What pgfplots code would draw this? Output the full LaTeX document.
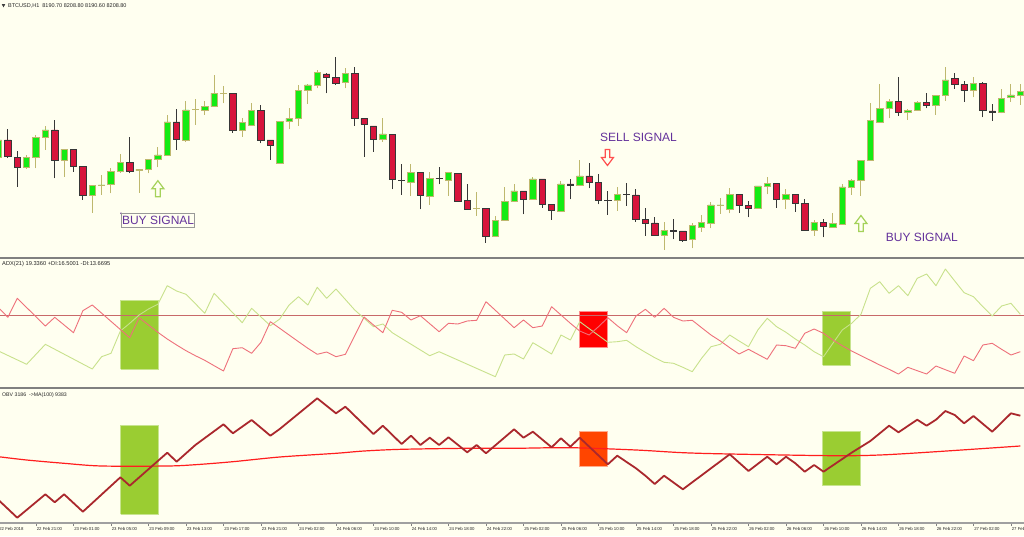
\documentclass[border=0pt]{standalone}
\usepackage{fontspec}
\setmainfont{Liberation Sans}
\usepackage{pgfplots}
\usepackage{pgfplotstable}
\pgfplotsset{compat=1.18}

\definecolor{bgivory}{RGB}{255,255,240}
\definecolor{bullfill}{RGB}{20,235,20}
\definecolor{bullline}{RGB}{190,184,110}
\definecolor{bearfill}{RGB}{215,20,60}
\definecolor{bearline}{RGB}{55,55,55}
\definecolor{sepgray}{RGB}{128,128,128}
\definecolor{axisgray}{RGB}{160,160,160}
\definecolor{sigpurple}{RGB}{100,50,155}
\definecolor{diplus}{RGB}{200,225,140}
\definecolor{diminus}{RGB}{238,112,122}
\definecolor{levelc}{RGB}{200,105,105}
\definecolor{obvc}{RGB}{170,40,45}
\definecolor{mac}{RGB}{255,30,30}
\definecolor{yg}{RGB}{154,205,50}
\definecolor{orred}{RGB}{255,69,0}
\definecolor{arrowgreen}{RGB}{165,210,90}
\definecolor{arrowred}{RGB}{255,80,80}

\tikzset{sigtext/.style={anchor=west, inner sep=0pt, text=sigpurple, font=\fontsize{12}{14}\selectfont}}

% bullish candles (values = pixel height above the panel bottom)
\pgfplotstableread{
i o h l c
0 99 118 96 116
3 88.7 101 87 98.7
4 98.7 121 87.7 118.7
5 118.3 130 106 126
7 96 107 79.3 106.7
10 61 71 43.3 70.3
11 70.5 81 61 71
12 71.7 87.7 62.7 84.3
13 84.3 102 83 93.3
15 85.3 87 63.3 86.7
16 86.7 97 82.7 96.3
17 96.3 108.7 88.7 101
18 101 141 101 134
20 116 155.3 114.3 146
21 146.3 156.7 131 146.7
22 145.3 155.3 141 149.3
23 149.3 181 149.3 162.7
24 162.4 170 152.7 162.7
26 126 137.7 119.3 133.3
27 131 152.7 131 145.3
30 92.7 134.3 92.7 134.3
31 134.3 147.7 126.7 137.7
32 137.7 171 130.3 165.3
33 165.3 172 152 171
34 171 186 167.7 183.3
37 173.3 187.7 167.7 182.7
41 117 137.7 114.3 122
44 73.3 92 60 83.3
46 59.3 84.3 51 77.7
48 75.3 84.3 60.3 83.3
51 47.2 63.7 40.3 47.5
53 19.3 40 19.3 35.3
54 35.3 69.3 35.3 54.7
55 54.7 71.7 54.3 65
57 56.7 79.3 56.7 77
60 44.3 75.3 44.3 72
62 70.3 96 70.3 80
66 56 69.3 45 61.7
71 21 34.3 6 25.3
74 16.7 32.7 7.7 30.3
75 28.7 41 24.3 33.3
76 32.7 54.3 27.7 51
77 50.7 57.7 42 51
78 47 67.7 42.7 61.7
81 47.7 70 47.7 70
82 70 79.3 61.7 72.3
84 56.7 66.7 46.7 61.7
87 26 36 20 33.7
89 28.7 42.7 28.7 32.7
90 32 72 32 69
91 68.3 76.7 61 75.3
92 75.3 95.3 60 95.3
93 95.3 153.3 95.3 135.3
94 133.7 172 133.7 147.7
95 147.7 156.7 137.7 154.3
97 143.3 146.7 136 145.7
98 145.3 155.3 145.3 153.3
100 151 161 141 160.3
101 161 188.7 155.3 176
104 165.3 178.7 158.7 172.7
107 143.3 166.7 142.7 157.7
108 158.3 172 154.3 161
109 161 172 151 164.3
}\upcandles

% bearish candles
\pgfplotstableread{
i o h l c
1 116 127 98 99.3
2 98.7 105.3 69.3 88.7
6 126 136 77.7 95.3
8 106.7 106.7 84.3 89.3
9 89.3 89.3 56 61
14 93.3 119.3 82.7 84.3
19 134 146.7 106 116.7
25 162.7 162.7 123.3 126
28 145.3 151 112.7 116
29 116 116 96 110.3
35 182 182.7 162.7 178.7
36 178.7 199.3 171 173
38 182.7 189.3 130 137.7
39 137.7 137.7 99.3 131.7
40 130 130 104.3 117
42 121.7 121.7 66.7 76.7
43 75.5 91.7 61 75.1
45 83.3 83.3 46.7 60.3
47 77.5 89.3 71.7 77.1
49 82.7 82.7 55 55
50 55.3 71.7 46.7 46.7
52 47.7 47.7 13.3 19.3
56 65 65 41.7 56.7
58 77 77 48.3 51.3
59 51.3 51.3 36 46
61 72 76.7 56.7 70.3
63 80 92.7 67.7 73.3
64 73.3 81.7 51.7 56
65 55.9 65 41 55.5
67 61.9 72.7 50 61.5
68 61 67 34.3 36.7
69 36.7 48.3 20 32.7
70 33 39.3 21 21
72 25.2 36.7 16.7 24.8
73 25 25 14.3 16
79 61.7 61.7 43.3 50.3
80 50.7 55 38.7 47.7
83 72.3 72.3 48.3 56.7
85 61.7 61.7 44.3 52.7
86 52.3 57.3 25.3 25.3
88 33.7 36.7 18.7 30
96 154.3 178.7 140 143.3
99 153.3 162.7 147.7 151
102 177.7 183.3 167 171.7
103 171.7 175 154.3 165.3
105 172.7 174.3 138.7 145.3
106 145 152 135.3 143.3
}\downcandles

\pgfplotstableread{
i v
0 79.3
1 69.7
2 88.7
5 61
6 69.7
8 54.3
9 76.3
10 82
14 49.3
15 69.3
16 62
17 54.7
18 48
19 42
20 36.3
21 31.3
22 26.7
23 21.3
24 16
25 38.3
26 39.3
27 33.7
28 44.7
29 65.3
30 58.7
31 52
32 45.3
33 38.7
34 32.7
35 35
36 30.3
37 32.7
39 70
40 62
41 54.3
42 76.7
43 74.7
44 67
45 71.3
46 63.3
47 55.3
48 63.7
49 63
50 66
51 66.7
52 85.3
53 76.7
54 68
55 59.3
56 67
57 59.3
58 61
59 80.3
60 72
61 63.7
62 56
63 52
64 60.3
65 69.3
66 61.3
67 54.3
68 71
69 77.7
70 69.7
71 78.7
72 69.7
73 66
74 66.7
75 59.3
76 52
77 46
78 39.3
79 33
80 37.7
81 32.7
82 27.7
83 42
84 41.3
85 38.7
86 53.7
87 58
88 53.7
89 47
90 41.3
91 36
92 31.3
93 26.7
94 22
95 17.7
96 13
97 19.7
98 16.3
99 13
100 21
101 17.3
102 13.7
103 31
104 26.3
105 42
106 43.7
107 37.7
108 32
109 35.3
}\diminusdata

\pgfplotstableread{
i v
0 36
3 22.7
5 42.7
10 18
11 30.3
12 33.7
13 56
14 63.7
15 72
16 78
17 82.7
18 101.3
19 96
20 92.7
21 83.3
22 73.7
23 93.7
26 64.3
27 78.7
29 61.3
30 68
31 82
32 90.3
33 82
34 99.7
35 88.7
36 98
38 77
39 68.7
40 60.3
41 63
42 54.3
46 31.3
47 35.3
53 10.3
54 32
55 33
56 28
57 44.3
58 38.7
59 33
60 52
61 47
62 65.3
65 44.7
66 45.3
67 46.7
68 40.3
69 34.7
70 29.3
71 24.7
72 23.7
73 19.7
74 15.3
75 28.7
76 40.3
77 42.7
78 52
79 46
80 40.3
81 57
82 68.7
83 60.3
84 54.7
85 48
86 42
87 35.3
88 30.3
89 43.7
90 57
91 63.7
92 72.7
93 98.7
94 105.3
95 93.7
96 101.3
97 91.3
98 108.7
99 113
100 101.3
101 118
102 106
103 94.3
104 90.3
105 80.3
106 71
107 81
108 83.7
109 72.7
}\diplusdata

\pgfplotstableread{
i v
0 23
2 5.3
5 28.7
6 20.7
7 28.7
9 11.3
13 45.7
14 37.3
18 70.3
19 61.3
21 78
24 98.7
25 89.7
27 103
29 87.3
30 94
34 124.7
36 109.7
37 116.3
40 89
41 97.3
43 79
44 87.3
45 78
46 85.3
47 78
48 85.7
50 70.7
51 78
52 69.7
55 93.7
56 85.3
57 91.3
59 75.7
60 84.7
61 76.3
62 85.3
65 58.7
66 67.3
68 54.7
69 47.3
70 39
71 47.3
73 33.7
78 68.7
80 52
82 66.3
83 58.7
84 66.3
85 59.7
86 51.3
87 58
88 51.3
91 70.3
93 82
95 97.3
96 90.7
98 103.3
99 97.3
100 103.3
101 112
102 108
103 99.7
104 107
106 91.3
108 109.7
109 107.3
}\obvdata

\pgfplotstableread{
i v
0 66.3
3 63
7 59.7
11 57
18 57
21 58.3
25 61.3
30 66
36 69.7
39 72
43 73.7
50 74.7
55 74.7
61 75.3
68 73
73 70.3
78 69
89 67.3
94 68
100 71.3
109 77
}\madata

\begin{document}
\begin{tikzpicture}
\useasboundingbox (0pt,0pt) rectangle (1024pt,536pt);
\clip (0pt,0pt) rectangle (1024pt,536pt);
\fill[bgivory] (0pt,0pt) rectangle (1024pt,536pt);
\pgfplotsset{
  panel/.style={at={(-3.375pt,#1)}, anchor=south west, scale only axis,
    width=1027.375pt, xmin=-0.2, xmax=109.39, enlargelimits=false},
  mainpanel/.style={panel=280pt, height=256pt, ymin=0, ymax=256, hide axis},
}
% ---------- main panel: wicks
\begin{axis}[mainpanel]
\addplot[draw=none, mark=none, forget plot,
  error bars/.cd, y dir=plus, y explicit, error mark=none,
  error bar style={draw=bullline, line width=1pt}]
  table[x=i, y=l, y error expr=\thisrow{h}-\thisrow{l}] {\upcandles};
\addplot[draw=none, mark=none, forget plot,
  error bars/.cd, y dir=plus, y explicit, error mark=none,
  error bar style={draw=bearline, line width=1pt}]
  table[x=i, y=l, y error expr=\thisrow{h}-\thisrow{l}] {\downcandles};
\end{axis}
% ---------- bullish bodies
\begin{axis}[mainpanel, ybar stacked, bar width=0.68]
\addplot[draw=none, fill=none] table[x=i, y=o] {\upcandles};
\addplot[fill=bullfill, draw=bullline, line width=0.8pt]
  table[x=i, y expr=\thisrow{c}-\thisrow{o}] {\upcandles};
\end{axis}
% ---------- bearish bodies + annotations
\begin{axis}[mainpanel, ybar stacked, bar width=0.68]
\addplot[draw=none, fill=none] table[x=i, y=c] {\downcandles};
\addplot[fill=bearfill, draw=bearline, line width=0.8pt]
  table[x=i, y expr=\thisrow{o}-\thisrow{c}] {\downcandles};
% arrows
\draw[arrowgreen, line width=1.2pt, line join=miter] (axis cs:17,67.3)
  ++(-2.3pt,-8pt) -- ++(4.6pt,0pt) -- ++(0pt,8pt) -- ++(3.7pt,0pt)
  -- ++(-6pt,8pt) -- ++(-6pt,-8pt) -- ++(3.7pt,0pt) -- cycle;
\draw[arrowgreen, line width=1.2pt, line join=miter] (axis cs:92,32.5)
  ++(-2.3pt,-8pt) -- ++(4.6pt,0pt) -- ++(0pt,8pt) -- ++(3.7pt,0pt)
  -- ++(-6pt,8pt) -- ++(-6pt,-8pt) -- ++(3.7pt,0pt) -- cycle;
\draw[arrowred, line width=1.2pt, line join=miter] (axis cs:64.96,98.5)
  ++(-2.3pt,8pt) -- ++(4.6pt,0pt) -- ++(0pt,-8pt) -- ++(3.7pt,0pt)
  -- ++(-6pt,-8pt) -- ++(-6pt,8pt) -- ++(3.7pt,0pt) -- cycle;
% signal labels
\node[sigtext, draw=gray!80, line width=0.7pt, inner xsep=0.7pt, inner ysep=2.6pt]
  at (axis cs:13.07,35.7) {BUY SIGNAL};
\fill[sigpurple] (axis cs:13.07,42.7) circle (0.9pt);
\node[sigtext] at (axis cs:64.16,119) {SELL SIGNAL};
\node[sigtext] at (axis cs:94.63,18.5) {BUY SIGNAL};
\end{axis}
% ---------- ADX panel
\begin{axis}[panel=149pt, height=129pt, ymin=0, ymax=129, hide axis]
\addplot[fill=yg, draw=yg!55!white, line width=0.8pt]
  coordinates {(13.03,18) (17.01,18) (17.01,86.3) (13.03,86.3) (13.03,18)};
\addplot[fill=red, draw=red!45!white, line width=0.8pt]
  coordinates {(61.95,39.7) (64.94,39.7) (64.94,75.3) (61.95,75.3) (61.95,39.7)};
\addplot[fill=yg, draw=yg!55!white, line width=0.8pt]
  coordinates {(87.9,22) (90.83,22) (90.83,76) (87.9,76) (87.9,22)};
\addplot[levelc, line width=0.9pt] coordinates {(-0.2,71.3) (109.39,71.3)};
\addplot[diplus, line width=0.9pt, line join=round] table[x=i, y=v] {\diplusdata};
\addplot[diminus, line width=0.9pt, line join=round] table[x=i, y=v] {\diminusdata};
\end{axis}
% ---------- OBV panel
\begin{axis}[panel=13pt, height=134pt, ymin=0, ymax=134,
  axis x line*=bottom, axis y line=none,
  axis line style={-, draw=axisgray, line width=1.4pt},
  ytick=\empty,
  xtick={0,4,...,108},
  xticklabels={22 Feb 2018,22 Feb 21:00,23 Feb 01:00,23 Feb 05:00,23 Feb 09:00,
    23 Feb 13:00,23 Feb 17:00,23 Feb 21:00,24 Feb 02:00,24 Feb 06:00,24 Feb 10:00,
    24 Feb 14:00,24 Feb 18:00,24 Feb 22:00,25 Feb 02:00,25 Feb 06:00,25 Feb 10:00,
    25 Feb 14:00,25 Feb 18:00,25 Feb 22:00,26 Feb 02:00,26 Feb 06:00,26 Feb 10:00,
    26 Feb 14:00,26 Feb 18:00,26 Feb 22:00,27 Feb 02:00,27 Feb 06:00},
  tick align=outside, major tick length=3pt,
  x tick style={draw=sepgray, line width=0.6pt},
  xticklabel style={anchor=north west, inner sep=0pt, xshift=0.6pt, yshift=-1pt,
    font=\fontsize{4.3}{5}\selectfont, text=black!85}]
\addplot[fill=yg, draw=yg!55!white, line width=0.8pt]
  coordinates {(13.03,9) (17.01,9) (17.01,98) (13.03,98) (13.03,9)};
\addplot[fill=orred, draw=orred!45!white, line width=0.8pt]
  coordinates {(61.95,57) (64.94,57) (64.94,91.3) (61.95,91.3) (61.95,57)};
\addplot[fill=yg, draw=yg!55!white, line width=0.8pt]
  coordinates {(87.9,37.3) (91.89,37.3) (91.89,92) (87.9,92) (87.9,37.3)};
\addplot[mac, line width=1.2pt, smooth] table[x=i, y=v] {\madata};
\addplot[obvc, line width=1.8pt, line join=round] table[x=i, y=v] {\obvdata};
\end{axis}
% ---------- separators
\draw[sepgray, line width=2.2pt] (0pt,278.3pt) -- (1024pt,278.3pt);
\draw[sepgray, line width=2.2pt] (0pt,148.2pt) -- (1024pt,148.2pt);
% ---------- headers
\fill[black!75] (1.8pt,531.8pt) -- (5.2pt,531.8pt) -- (3.5pt,528.6pt) -- cycle;
\node[anchor=west, inner sep=0pt, font=\fontsize{5.5}{6}\selectfont, text=black!85]
  at (8pt,530pt) {BTCUSD,H1 \ 8190.70 8208.80 8190.60 8208.80};
\node[anchor=west, inner sep=0pt, font=\fontsize{5.7}{6}\selectfont, text=black!85]
  at (2pt,272pt) {ADX(21) 19.3360 +DI:16.5001 -DI:13.6695};
\node[anchor=west, inner sep=0pt, font=\fontsize{5.2}{6}\selectfont, text=black!85]
  at (2pt,141pt) {OBV 3186 \ ->MA(100) 9383};
\end{tikzpicture}
\end{document}
